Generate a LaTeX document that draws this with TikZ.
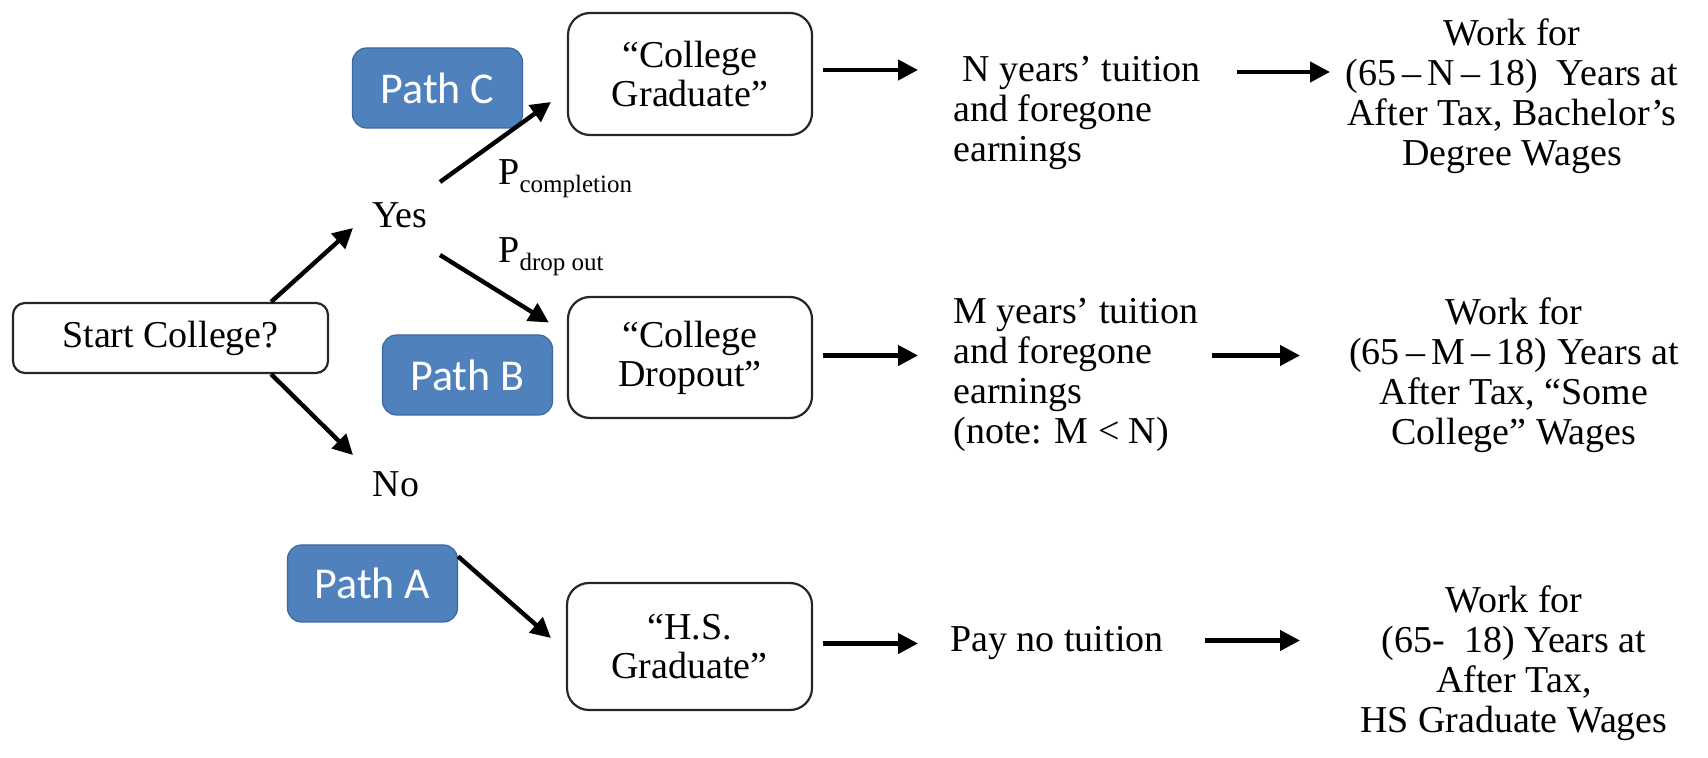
\documentclass[tikz,border=0pt]{standalone}
\usepackage{fontspec}
\setmainfont{Liberation Serif}
\newfontfamily\pathfont{Carlito}
\usetikzlibrary{arrows.meta,calc}

\definecolor{pathblue}{RGB}{79,129,189}
\definecolor{pathedge}{RGB}{61,104,156}

\tikzset{
  stagebox/.style={draw=black!85, line width=1.1pt, rounded corners=11pt, align=center, inner sep=0pt, font=\fontsize{19}{19.5}\selectfont},
  pathlabel/.style={draw=pathedge, fill=pathblue, line width=0.6pt, rounded corners=7pt, text=white, inner sep=0pt, minimum width=85pt, minimum height=40pt, font=\pathfont\fontsize{22}{24}\selectfont},
  plaintext/.style={inner sep=0pt, font=\fontsize{19}{20}\selectfont},
  flow/.style={-{Triangle[length=10pt,width=10pt]}, line width=2.2pt, black},
}

\begin{document}
\begin{tikzpicture}[x=0.5pt,y=0.5pt,yscale=-1,xscale=1]
\useasboundingbox (0,0) rectangle (1708,758);

%Shape: Rounded Rectangle [start]
\node[stagebox, rounded corners=6pt, minimum width=157.5pt, minimum height=35pt] (start) at (170.5,338) {Start College?};
%Shape: Rounded Rectangle [outcomes]
\node[stagebox, minimum width=122pt, minimum height=61pt] (grad) at (690,74) {“College\\Graduate”};
\node[stagebox, minimum width=122pt, minimum height=60.5pt] (drop) at (690,357.5) {“College\\Dropout”};
\node[stagebox, minimum width=122.5pt, minimum height=63.5pt] (hs) at (689.5,646.5) {“H.S.\\Graduate”};

%Shape: Path labels
\node[pathlabel] (pathc) at (437.5,88) {Path C};
\node[pathlabel] (pathb) at (467.5,375) {Path B};
\node[pathlabel, minimum height=38.5pt] (patha) at (372.5,583.5) {Path A};

% Text Node
\node[plaintext] (yes) at (400,215) {Yes};
% Text Node
\node[plaintext] (no) at (396,484) {No};
% Text Node
\node[plaintext, anchor=base west] (pcomp) at (498,185) {P\raisebox{-4pt}{\fontsize{12.5}{12.5}\selectfont completion}};
% Text Node
\node[plaintext, anchor=base west] (pdrop) at (498,263) {P\raisebox{-4pt}{\fontsize{12.5}{12.5}\selectfont drop out}};

% Text Node
\node[plaintext, anchor=west, align=left] (costc) at (953,113) {\hspace{4.5pt}N years’ tuition\\and foregone\\earnings};
% Text Node
\node[plaintext, anchor=west, align=left] (costb) at (953,375) {M years’ tuition\\and foregone\\earnings\\(note: M < N)};
% Text Node
\node[plaintext, anchor=west] (costa) at (950,643) {Pay no tuition};

% Text Node
\node[plaintext, align=center] (workc) at (1512,96) {Work for\\(65\,–\,N\,–\,18)\ \ Years at\\After Tax, Bachelor’s\\Degree Wages};
% Text Node
\node[plaintext, align=center] (workb) at (1514,375) {Work for\\(65\,–\,M\,–\,18) Years at\\After Tax, “Some\\College” Wages};
% Text Node
\node[plaintext, align=center] (worka) at (1514,663) {Work for\\(65-\ \ 18) Years at\\After Tax,\\HS Graduate Wages};

%Straight Lines [branches]
\draw[flow] ($(start.north east)+(-58,0)$) -- ($(yes.center)+(-47,13)$);
\draw[flow] ($(start.south east)+(-58,0)$) -- ($(no.center)+(-43,-29)$);
\draw[flow] ($(yes.center)+(40,-33)$) -- ($(grad.west)+(-16,28)$);
\draw[flow] ($(yes.center)+(40,40)$) -- ($(drop.west)+(-18,-35)$);
\draw[flow] ($(patha.north east)+(0,12)$) -- ($(hs.west)+(-15,-8.5)$);

%Straight Lines [rows]
\draw[flow] ($(grad.east)+(10,-4)$) -- ($(costc.west |- grad.east)+(-35,-4)$);
\draw[flow] ($(costc.west |- grad.east)+(284,-2)$) -- ($(workc.center |- grad.east)+(-182,-2)$);
\draw[flow] ($(drop.east)+(10,-2)$) -- ($(costb.west |- drop.east)+(-35,-2)$);
\draw[flow] ($(costb.west |- drop.east)+(259,-2)$) -- ($(workb.center |- drop.east)+(-214,-2)$);
\draw[flow] ($(hs.east)+(10,-3)$) -- ($(costa.west |- hs.east)+(-32,-3)$);
\draw[flow] ($(costa.west |- hs.east)+(255,-6)$) -- ($(worka.center |- hs.east)+(-214,-6)$);

\end{tikzpicture}
\end{document}
